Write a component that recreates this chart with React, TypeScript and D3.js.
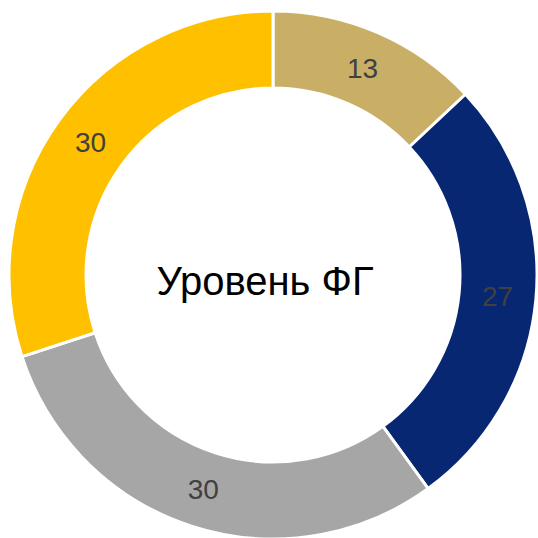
import React from "react";
import * as d3 from "d3";

const categories = ["A", "B", "C", "D"];
const values = [13, 27, 30, 30];
const colors = ["#C9AE66", "#082772", "#A6A6A6", "#FFC000"];
const centerLabel = "Уровень ФГ";

export default function App() {
  const W = 538, H = 538;
  const cx = 273, cy = 275;
  const outerR = 264, innerR = 187;
  const pie = d3.pie<number>().sort(null).value((d) => d)(values);
  const arc = d3.arc<d3.PieArcDatum<number>>().innerRadius(innerR).outerRadius(outerR);
  const labelArc = d3.arc<d3.PieArcDatum<number>>().innerRadius((innerR + outerR) / 2).outerRadius((innerR + outerR) / 2);
  return (
    <svg width={W} height={H} style={{ position: "absolute", left: 0, top: 0 }}>
      <rect width={W} height={H} fill="#fff" />
      <g transform={`translate(${cx},${cy})`}>
        {pie.map((p, i) => (
          <path key={categories[i]} d={arc(p) || ""} fill={colors[i]} stroke="#fff" strokeWidth={3} />
        ))}
        {pie.map((p, i) => {
          const [x, y] = labelArc.centroid(p);
          return (
            <text key={"l" + i} x={x} y={y} textAnchor="middle" dominantBaseline="central"
              fontFamily="Liberation Sans, Arial, sans-serif" fontSize={28} fill="#404040">
              {values[i]}
            </text>
          );
        })}
        <text x={-8} y={20} textAnchor="middle" fontFamily="Liberation Sans, Arial, sans-serif"
          fontSize={40} fill="#000">
          {centerLabel}
        </text>
      </g>
    </svg>
  );
}
